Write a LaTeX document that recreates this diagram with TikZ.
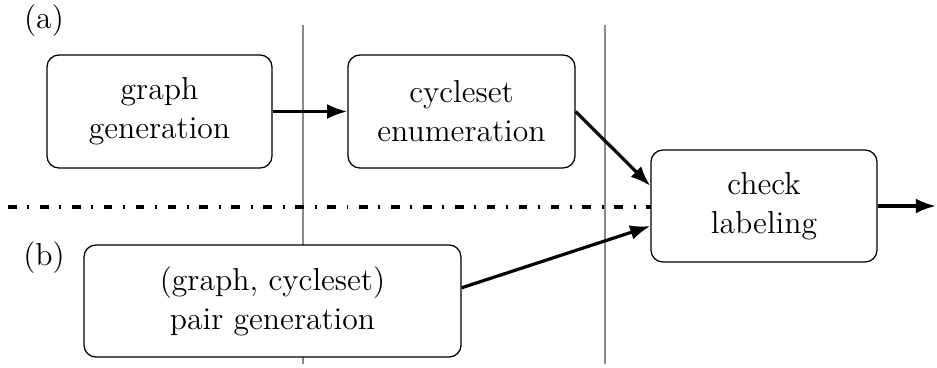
\documentclass[tikz,border=0pt]{standalone}
\usepackage{xcolor}
\usepackage{tikz}
\usetikzlibrary{calc,arrows.meta}
\definecolor{sep}{HTML}{8A8A8A}
\tikzset{
  stage/.style={draw=black, fill=white, line width=0.6pt, rounded corners=5.6pt, align=center,
    font=\fontsize{14.9}{18.4}\selectfont, inner sep=0pt},
  flow/.style={draw=black, line width=1.5pt, -{Latex[length=9.5pt,width=7pt]}},
  split/.style={draw=sep, line width=1.3pt},
  dashdot/.style={draw=black, line width=1.7pt, dash pattern=on 4.1pt off 5pt on 0.9pt off 5pt},
  tag/.style={font=\fontsize{14.9}{18.4}\selectfont, inner sep=0pt},
}

\begin{document}
\begin{tikzpicture}[x=0.47pt, y=-0.47pt]
  \useasboundingbox (0,0) rectangle (937,367);

  % stage separators
  \draw[split] (303,25) -- (303,364);
  \draw[split] (605,25) -- (605,364);

  % (a) above, (b) below
  \coordinate (left) at (8,207);
  \draw[dashdot] (left) -- (651,207);

  \node[stage, minimum width=225*0.47pt, minimum height=113*0.47pt] (graphgen) at (159.5,111.5) {graph\\generation};
  \node[stage, minimum width=227*0.47pt, minimum height=113*0.47pt] (cycenum) at (461.5,111.5) {cycleset\\enumeration};
  \node[stage, minimum width=226*0.47pt, minimum height=112*0.47pt] (check) at (764,206) {check\\labeling};
  \node[stage, minimum width=377*0.47pt, minimum height=112*0.47pt] (pairgen) at (272.5,301) {(graph, cycleset)\\pair generation};
  \coordinate (out) at (936,206);

  \node[tag] (lbla) at (44,21) {(a)};
  \node[tag] (lblb) at (44,258) {(b)};

  \draw[flow] (graphgen.east) -- (cycenum.west);
  \draw[flow] (cycenum.east) -- (check.170);
  \draw[flow] (pairgen.4) -- (check.190);
  \draw[flow] (check.east) -- (out);
\end{tikzpicture}
\end{document}
